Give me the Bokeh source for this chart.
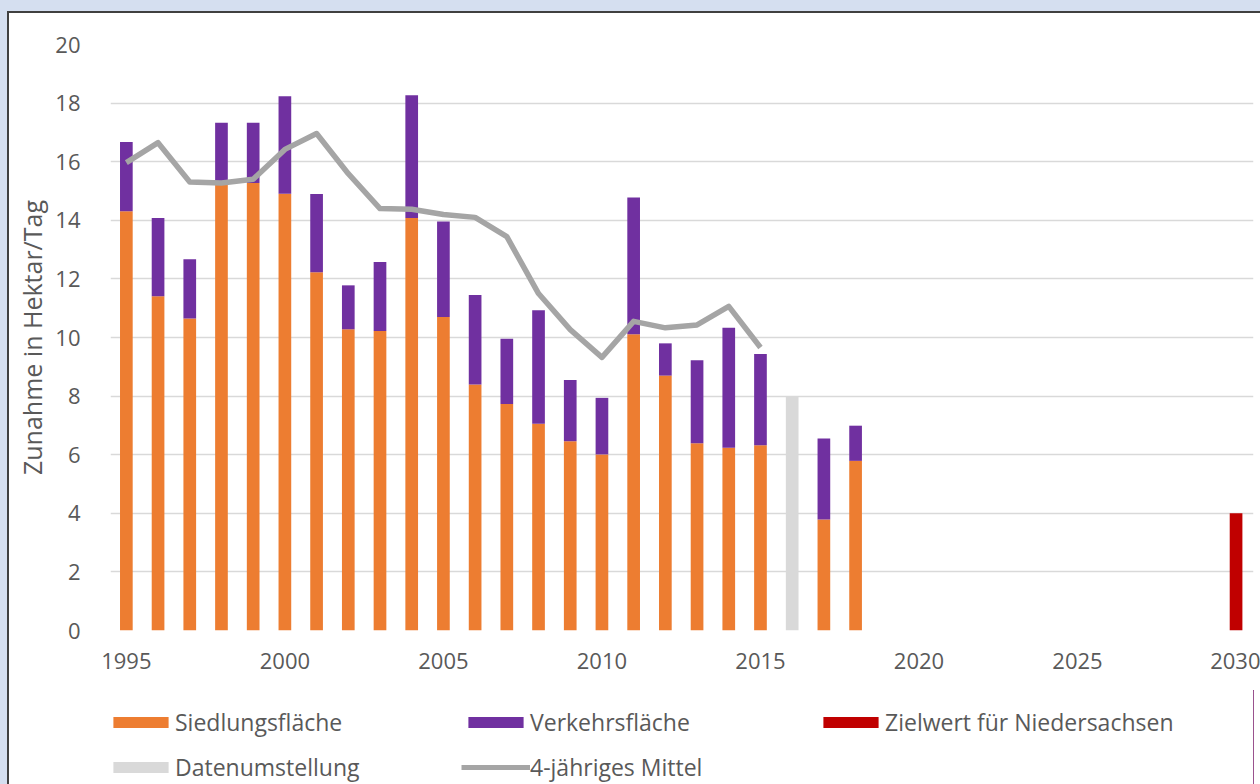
from bokeh.plotting import figure
from bokeh.layouts import column
from bokeh.models import (ColumnDataSource, FixedTicker, Legend, LegendItem, Range1d,
                          GlobalInlineStyleSheet)
from bokeh.embed import file_html
from bokeh.resources import INLINE

# ---- data ----
years = [1995, 1996, 1997, 1998, 1999, 2000, 2001, 2002, 2003, 2004, 2005, 2006,
         2007, 2008, 2009, 2010, 2011, 2012, 2013, 2014, 2015, 2017, 2018]
siedlung = [14.31, 11.41, 10.65, 15.33, 15.27, 14.91, 12.23, 10.28, 10.22, 14.08, 10.70,
            8.40, 7.73, 7.06, 6.46, 6.01, 10.11, 8.70, 6.39, 6.24, 6.32, 3.79, 5.79]
verkehr = [2.36, 2.67, 2.02, 2.00, 2.06, 3.32, 2.67, 1.50, 2.36, 4.19, 3.26,
           3.05, 2.23, 3.87, 2.09, 1.93, 4.67, 1.10, 2.83, 4.09, 3.12, 2.76, 1.20]

umstellung_year = [2016]
umstellung_value = [8.0]

ziel_year = [2030]
ziel_value = [4.0]

mittel_years = list(range(1995, 2016))
mittel = [15.97, 16.65, 15.31, 15.27, 15.40, 16.42, 16.96, 15.59, 14.40, 14.38, 14.20,
          14.10, 13.44, 11.50, 10.27, 9.32, 10.55, 10.33, 10.43, 11.06, 9.66]

x_ticks = [1995, 2000, 2005, 2010, 2015, 2020, 2025, 2030]
y_ticks = [0, 2, 4, 6, 8, 10, 12, 14, 16, 18, 20]

legend_row1 = ["Siedlungsfläche", "Verkehrsfläche", "Zielwert für Niedersachsen"]
legend_row2 = ["Datenumstellung", "4-jähriges Mittel"]

# ---- styling ----
FONT = "Open Sans"
TXT = "#595959"
C_S = "#ed7d31"
C_V = "#7030a0"
C_Z = "#c00000"
C_D = "#d9d9d9"
C_M = "#a5a5a5"

p = figure(width=1251, height=677, output_backend="svg", toolbar_location=None,
           x_range=Range1d(1994.5, 2030.55), y_range=Range1d(0, 20),
           min_border_left=101, min_border_right=7, min_border_top=31, min_border_bottom=60)
p.background_fill_color = "white"
p.border_fill_color = "white"
p.outline_line_color = None

src = ColumnDataSource(dict(year=years, s=siedlung, v=verkehr))
p.vbar_stack(["s", "v"], x="year", width=0.4, color=[C_S, C_V], source=src, line_width=0)
p.vbar(x=umstellung_year, top=umstellung_value, width=0.4, color=C_D, line_width=0)
p.vbar(x=ziel_year, top=ziel_value, width=0.4, color=C_Z, line_width=0)
p.line(mittel_years, mittel, line_color=C_M, line_width=5.5, line_join="round")

# axes
p.xaxis.ticker = FixedTicker(ticks=x_ticks)
p.yaxis.ticker = FixedTicker(ticks=y_ticks)
for ax in (p.xaxis, p.yaxis):
    ax.axis_line_color = None
    ax.major_tick_line_color = None
    ax.minor_tick_line_color = None
    ax.major_label_text_font = FONT
    ax.major_label_text_font_size = "22px"
    ax.major_label_text_color = TXT
p.xaxis.major_label_standoff = 16
p.yaxis.major_label_standoff = 24
p.yaxis.axis_label = "Zunahme in Hektar/Tag"
p.yaxis.axis_label_text_font = FONT
p.yaxis.axis_label_text_font_size = "25px"
p.yaxis.axis_label_text_font_style = "normal"
p.yaxis.axis_label_text_color = TXT
p.yaxis.axis_label_standoff = 3

p.xgrid.grid_line_color = None
p.ygrid.grid_line_color = "#d9d9d9"
p.ygrid.grid_line_width = 1.5

# ---- legend strip: a second figure whose key renderers lie outside its ranges ----
lf = figure(width=1251, height=94, output_backend="svg", toolbar_location=None,
            x_axis_type=None, y_axis_type=None, x_range=Range1d(0, 1), y_range=Range1d(0, 1),
            min_border=0)
lf.outline_line_color = None
lf.grid.grid_line_color = None
lf.background_fill_color = "white"
lf.border_fill_color = "white"
k_s = lf.vbar(x=years, top=siedlung, width=0.4, color=C_S, line_width=0)
k_v = lf.vbar(x=years, top=verkehr, width=0.4, color=C_V, line_width=0)
k_z = lf.vbar(x=ziel_year, top=ziel_value, width=0.4, color=C_Z, line_width=0)
k_d = lf.vbar(x=umstellung_year, top=umstellung_value, width=0.4, color=C_D, line_width=0)
k_m = lf.line(x=mittel_years, y=mittel, line_color=C_M, line_width=5, line_cap="butt")


def mk_legend(labels, renderers, vy):
    return Legend(items=[LegendItem(label=l, renderers=[r]) for l, r in zip(labels, renderers)],
                  location=(-4, vy), orientation="horizontal",
                  glyph_width=69, glyph_height=14, label_standoff=0, label_width=286,
                  label_height=30, spacing=0, padding=0, margin=0,
                  border_line_color=None, background_fill_alpha=0,
                  label_text_font=FONT, label_text_font_size="23px",
                  label_text_color=TXT)


lf.add_layout(mk_legend(legend_row1, [k_s, k_v, k_z], 46), "center")
lf.add_layout(mk_legend(legend_row2, [k_d, k_m], 1), "center")

layout = column(p, lf, spacing=0)
layout.stylesheets = [GlobalInlineStyleSheet(css="html, body{background:#d5dff0; overflow:hidden;}")]
layout.styles = {"border-left": "2px solid #404040", "border-top": "2px solid #404040",
                 "margin-top": "11px", "margin-left": "7px", "background": "white"}

open("out.html", "w").write(file_html(layout, INLINE))
